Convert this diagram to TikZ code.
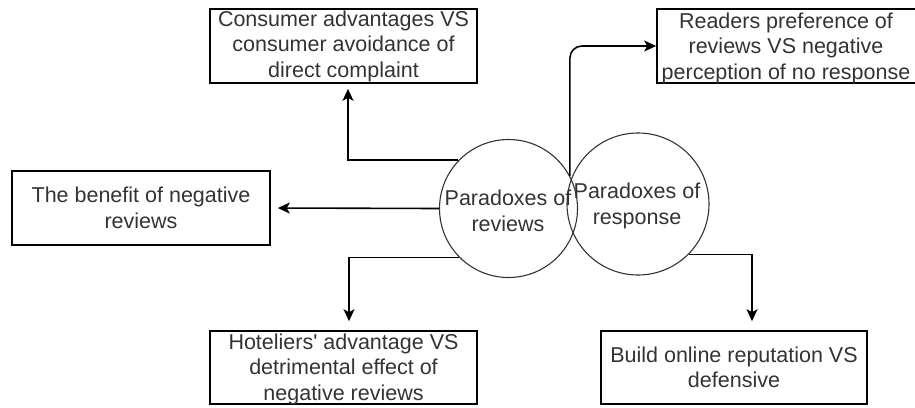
\documentclass[tikz,border=0pt]{standalone}
\usepackage{fontspec}
\setmainfont{Liberation Sans}
\usetikzlibrary{arrows.meta}
\begin{document}
\begin{tikzpicture}[x=1pt,y=-1pt,
  every node/.style={font=\fontsize{21.5}{25.5}\selectfont, text=black!80},
  box/.style={draw=black, line width=1.6pt, rectangle, inner sep=0pt, align=center},
  bubble/.style={draw=black!80, line width=1.1pt, circle, inner sep=0pt, minimum size=139pt, align=center},
  conn/.style={draw=black, line width=1.6pt, -{Stealth[length=12pt,width=11pt,inset=3pt]}}
]
\useasboundingbox (0,0) rectangle (915,407);

\node[box, minimum width=267pt, minimum height=74pt] (b1) at (343.5,46)
  {Consumer advantages VS\\consumer avoidance of\\direct complaint};
\node[box, minimum width=267pt, minimum height=74pt] (b2) at (790.5,46) {};
\node[align=center] at (786,48) {Readers preference of\\reviews VS negative\\perception of no response};
\node[box, minimum width=258pt, minimum height=74pt] (b3) at (141,208)
  {The benefit of negative\\reviews};
\node[box, minimum width=267pt, minimum height=73pt] (b4) at (343.5,367.5) {};
\node[align=center] at (343.5,369) {Hoteliers\textquotesingle{} advantage VS\\detrimental effect of\\negative reviews};
\node[box, minimum width=266pt, minimum height=73pt] (b5) at (734,367.5)
  {Build online reputation VS\\defensive};

\node[bubble, minimum size=138pt] (c1) at (508.5,208.5) {};
\node[bubble, minimum size=142pt] (c2) at (638,204) {};
\node[align=center] at (508,211) {Paradoxes of\\reviews};
\node[align=center] at (637,206) {Paradoxes of\\response};

\draw[conn, rounded corners=12pt] (c1.28) |- (b2.west);
\draw[conn, shorten >=5pt] (c1.136) -| ([xshift=4.5pt]b1.south);
\draw[conn, shorten >=7pt] (c1.west) -- (b3.east);
\draw[conn, shorten >=9pt] (c1.225) -| ([xshift=5.5pt]b4.north);
\draw[conn, shorten >=9pt] (c2.-45) -| ([xshift=18pt]b5.north);
\end{tikzpicture}
\end{document}
